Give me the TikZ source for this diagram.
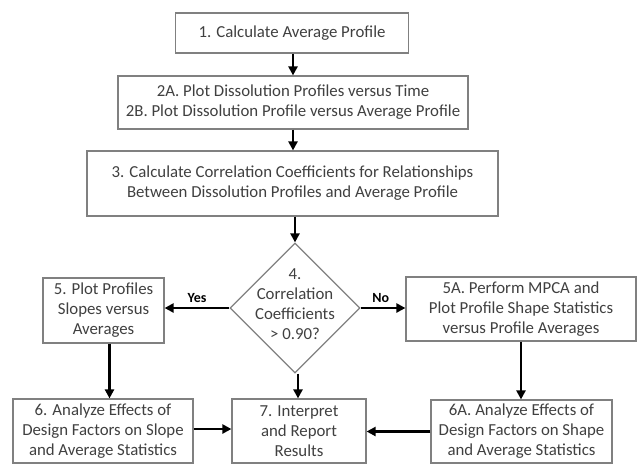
\documentclass[tikz,border=0pt]{standalone}
\usepackage{fontspec}
\setmainfont{Carlito}
\usetikzlibrary{shapes.geometric,arrows.meta}
\definecolor{boxline}{HTML}{808080}
\definecolor{boxtext}{HTML}{404040}
\tikzset{
  boxfont/.style={font=\fontsize{16.8}{20}\selectfont},
  stepbox/.style={draw=boxline, line width=1.2pt, fill=white, inner sep=0pt,
    align=center, text=boxtext, boxfont},
  flow/.style={line width=2.6pt, -{Triangle[length=9pt,width=9pt]}},
  answer/.style={font=\fontsize{14}{16}\selectfont\bfseries, text=black}
}
\begin{document}
\begin{tikzpicture}[x=1pt,y=-1pt]
\useasboundingbox (0,0) rectangle (637,464);
% process boxes
\node[stepbox, minimum width=233pt, minimum height=40pt] (b1) at (292,33) {1. Calculate Average Profile};
\node[stepbox, minimum width=350pt, minimum height=53pt] (b2) at (293,102.5)
  {2A. Plot Dissolution Profiles versus Time\\2B. Plot Dissolution Profile versus Average Profile};
\node[stepbox, minimum width=411pt, minimum height=65pt] (b3) at (292.5,183.5)
  {3. Calculate Correlation Coefficients for Relationships\\Between Dissolution Profiles and Average Profile};
% decision
\node[diamond, draw=boxline, line width=1.2pt, minimum width=130pt, minimum height=130pt,
  inner sep=0pt, aspect=1] (d) at (295,308) {};
\node[align=center, text=boxtext, boxfont] (dt) at (295,304)
  {4.\\Correlation\\Coefficients\\> 0.90?};
\node[stepbox, minimum width=121pt, minimum height=65pt] (b5) at (103.5,310.5)
  {5. Plot Profiles\\Slopes versus\\Averages};
\node[stepbox, minimum width=230pt, minimum height=64pt] (b5a) at (521,309)
  {5A. Perform MPCA and\\Plot Profile Shape Statistics\\versus Profile Averages};
\node[stepbox, minimum width=180pt, minimum height=64pt] (b6) at (103,431)
  {6. Analyze Effects of\\Design Factors on Slope\\and Average Statistics};
\node[stepbox, minimum width=134pt, minimum height=64pt] (b7) at (299,431)
  {7. Interpret\\and Report\\Results};
\node[stepbox, minimum width=181pt, minimum height=63pt] (b6a) at (521.5,431.5)
  {6A. Analyze Effects of\\Design Factors on Shape\\and Average Statistics};
% connectors
\draw[flow] (b1.south -| b2.north) -- (b2.north);
\draw[flow] (b2.south) -- (b2.south |- b3.north);
\draw[flow] (b3.south -| d.north) -- (d.north);
\draw[flow] (d.west) -- (d.west -| b5.east) node[answer, pos=0.5, above=1pt] (yes) {Yes};
\draw[flow] (d.east) -- (d.east -| b5a.west) node[answer, pos=0.45, above=1pt] (no) {No};
\draw[flow] ([xshift=3pt]d.south) -- ([xshift=3pt]d.south |- b7.north);
\draw[flow] ([xshift=6pt]b5.south) -- ([xshift=6pt]b5.south |- b6.north);
\draw[flow] (b5a.south) -- (b5a.south |- b6a.north);
\draw[flow] ([yshift=2pt]b6.east) -- ([yshift=2pt]b6.east -| b7.west);
\draw[flow] (b6a.west) -- (b6a.west -| b7.east);
\end{tikzpicture}
\end{document}
